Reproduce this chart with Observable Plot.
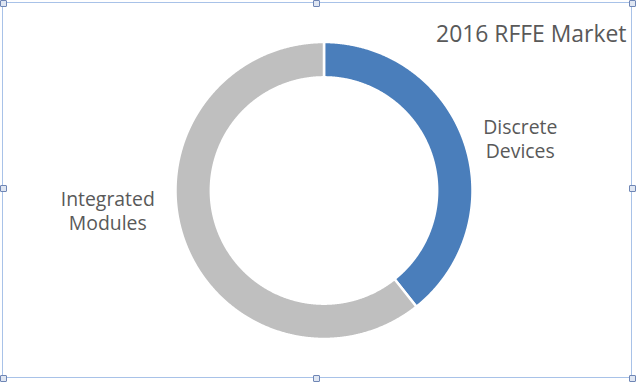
<!DOCTYPE html>
<html>
<head>
<meta charset="utf-8">
<script src="https://cdn.jsdelivr.net/npm/d3@7"></script>
<script src="https://cdn.jsdelivr.net/npm/@observablehq/plot@0.6"></script>
<style>
  html, body { margin: 0; padding: 0; background: #fff; }
  #wrap { position: relative; width: 637px; height: 385px; overflow: hidden; }
  #frame { position: absolute; left: 2px; top: 2px; width: 630px; height: 376px; border: 1px solid #a8c2e8; box-sizing: border-box; pointer-events: none; }
  .h { position: absolute; width: 7px; height: 7px; background: #dfe6f2; border: 1px solid #6f86b5; border-radius: 1px; box-sizing: border-box; }
</style>
</head>
<body>
<div id="wrap"></div>
<script>
const categories = ["Discrete Devices", "Integrated Modules"];
const shares = [39.3, 60.7];
const colors = ["#4a7ebb", "#bfbfbf"];
const chartTitle = "2016 RFFE Market";

const slices = d3.pie().sort(null).value(d => d.share)(categories.map((name, i) => ({name, share: shares[i]})))
  .map(s => ({name: s.data.name, a0: s.startAngle, a1: s.endAngle, mid: (s.startAngle + s.endAngle) / 2}));

const inner = 0.762;
const pts = [];
for (const s of slices) {
  const n = Math.max(2, Math.ceil((s.a1 - s.a0) / 0.005));
  for (let k = 0; k <= n; k++) { const a = s.a0 + (s.a1 - s.a0) * k / n; pts.push({name: s.name, x: Math.sin(a), y: Math.cos(a)}); }
  for (let k = n; k >= 0; k--) { const a = s.a0 + (s.a1 - s.a0) * k / n; pts.push({name: s.name, x: inner * Math.sin(a), y: inner * Math.cos(a)}); }
}

const labels = slices.map(s => ({text: s.name.replace(" ", "\n"), x: 1.35 * Math.sin(s.mid), y: 1.35 * Math.cos(s.mid), name: s.name}));

const font = "Open Sans, sans-serif";
const labelStyle = {x: "x", y: "y", text: "text", fontSize: 19.4, fill: "#595959", lineHeight: 1.24};
const chart = Plot.plot({
  width: 637, height: 385,
  margin: 0,
  x: {domain: [-1, 1], range: [175, 472], axis: null},
  y: {domain: [-1, 1], range: [338.5, 41.5], axis: null},
  color: {domain: categories, range: colors},
  style: {fontFamily: font, background: "transparent"},
  marks: [
    Plot.line(pts, {x: "x", y: "y", z: "name", fill: "name", stroke: "white", strokeWidth: 2.5, curve: "linear-closed"}),
    Plot.text(labels.filter(d => d.name === categories[0]), {...labelStyle, dx: 7, dy: 14}),
    Plot.text(labels.filter(d => d.name === categories[1]), {...labelStyle, dx: -27, dy: -46}),
    Plot.text([chartTitle], {frameAnchor: "top-right", dx: -11, dy: 25, textAnchor: "end", fontSize: 22.9, fill: "#595959"})
  ]
});
const wrap = document.getElementById("wrap");
wrap.appendChild(chart);
const frame = document.createElement("div"); frame.id = "frame"; wrap.appendChild(frame);
for (const [l, t] of [[0,0],[313,0],[629,0],[0,185],[629,185],[0,375],[313,375],[629,375]]) {
  const h = document.createElement("div"); h.className = "h"; h.style.left = l + "px"; h.style.top = t + "px"; wrap.appendChild(h);
}
</script>
</body>
</html>
